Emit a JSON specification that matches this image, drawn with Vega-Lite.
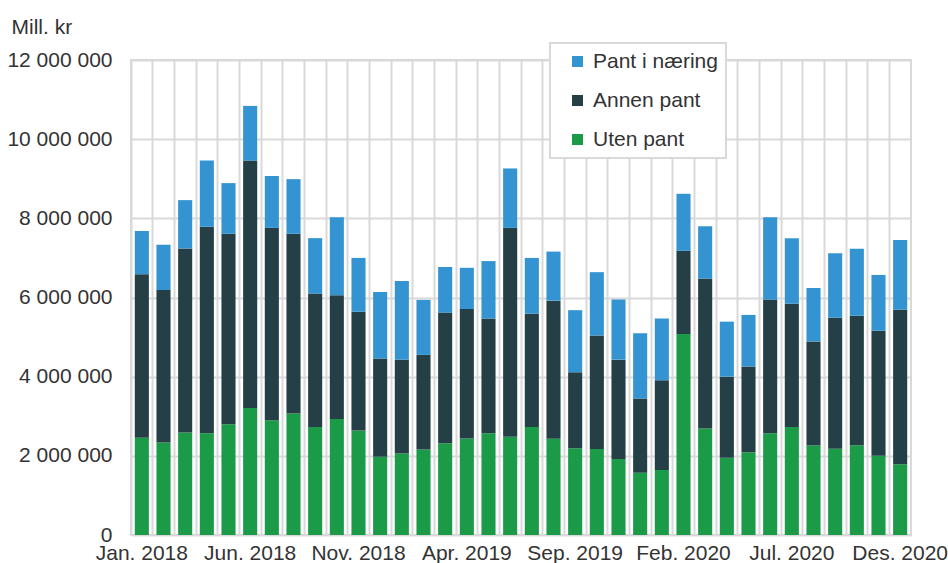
{
  "$schema": "https://vega.github.io/schema/vega-lite/v6.json",
  "width": 780,
  "height": 475,
  "autosize": {"type": "none"},
  "padding": {"left": 131, "top": 60, "right": 37, "bottom": 28},
  "background": "white",
  "config": {
    "locale": {"number": {"decimal": ",", "thousands": " ", "grouping": [3], "currency": ["", ""]}},
    "font": "Liberation Sans",
    "view": {"stroke": "#d9d9d9", "strokeWidth": 2},
    "axis": {"labelFont": "Liberation Sans", "labelFontSize": 21, "labelColor": "#333333", "gridColor": "#d9d9d9", "gridWidth": 2, "domain": false, "ticks": false, "tickSize": 0},
    "legend": {"strokeWidth": 2}
  },
  "datasets": {
    "types": [
      {"t": "Uten pant", "r": 1},
      {"t": "Annen pant", "r": 2},
      {"t": "Pant i næring", "r": 3}
    ],
    "bars": [
      {"m": "Jan. 2018", "t": "Uten pant", "v": 2460000}, {"m": "Jan. 2018", "t": "Annen pant", "v": 4130000}, {"m": "Jan. 2018", "t": "Pant i næring", "v": 1090000},
      {"m": "Feb. 2018", "t": "Uten pant", "v": 2340000}, {"m": "Feb. 2018", "t": "Annen pant", "v": 3850000}, {"m": "Feb. 2018", "t": "Pant i næring", "v": 1140000},
      {"m": "Mar. 2018", "t": "Uten pant", "v": 2590000}, {"m": "Mar. 2018", "t": "Annen pant", "v": 4650000}, {"m": "Mar. 2018", "t": "Pant i næring", "v": 1220000},
      {"m": "Apr. 2018", "t": "Uten pant", "v": 2570000}, {"m": "Apr. 2018", "t": "Annen pant", "v": 5220000}, {"m": "Apr. 2018", "t": "Pant i næring", "v": 1670000},
      {"m": "Mai 2018", "t": "Uten pant", "v": 2800000}, {"m": "Mai 2018", "t": "Annen pant", "v": 4810000}, {"m": "Mai 2018", "t": "Pant i næring", "v": 1280000},
      {"m": "Jun. 2018", "t": "Uten pant", "v": 3210000}, {"m": "Jun. 2018", "t": "Annen pant", "v": 6250000}, {"m": "Jun. 2018", "t": "Pant i næring", "v": 1380000},
      {"m": "Jul. 2018", "t": "Uten pant", "v": 2900000}, {"m": "Jul. 2018", "t": "Annen pant", "v": 4860000}, {"m": "Jul. 2018", "t": "Pant i næring", "v": 1310000},
      {"m": "Aug. 2018", "t": "Uten pant", "v": 3070000}, {"m": "Aug. 2018", "t": "Annen pant", "v": 4540000}, {"m": "Aug. 2018", "t": "Pant i næring", "v": 1380000},
      {"m": "Sep. 2018", "t": "Uten pant", "v": 2730000}, {"m": "Sep. 2018", "t": "Annen pant", "v": 3370000}, {"m": "Sep. 2018", "t": "Pant i næring", "v": 1400000},
      {"m": "Okt. 2018", "t": "Uten pant", "v": 2930000}, {"m": "Okt. 2018", "t": "Annen pant", "v": 3130000}, {"m": "Okt. 2018", "t": "Pant i næring", "v": 1970000},
      {"m": "Nov. 2018", "t": "Uten pant", "v": 2640000}, {"m": "Nov. 2018", "t": "Annen pant", "v": 3000000}, {"m": "Nov. 2018", "t": "Pant i næring", "v": 1360000},
      {"m": "Des. 2018", "t": "Uten pant", "v": 1980000}, {"m": "Des. 2018", "t": "Annen pant", "v": 2480000}, {"m": "Des. 2018", "t": "Pant i næring", "v": 1680000},
      {"m": "Jan. 2019", "t": "Uten pant", "v": 2060000}, {"m": "Jan. 2019", "t": "Annen pant", "v": 2370000}, {"m": "Jan. 2019", "t": "Pant i næring", "v": 1990000},
      {"m": "Feb. 2019", "t": "Uten pant", "v": 2160000}, {"m": "Feb. 2019", "t": "Annen pant", "v": 2390000}, {"m": "Feb. 2019", "t": "Pant i næring", "v": 1390000},
      {"m": "Mar. 2019", "t": "Uten pant", "v": 2320000}, {"m": "Mar. 2019", "t": "Annen pant", "v": 3300000}, {"m": "Mar. 2019", "t": "Pant i næring", "v": 1150000},
      {"m": "Apr. 2019", "t": "Uten pant", "v": 2440000}, {"m": "Apr. 2019", "t": "Annen pant", "v": 3270000}, {"m": "Apr. 2019", "t": "Pant i næring", "v": 1040000},
      {"m": "Mai 2019", "t": "Uten pant", "v": 2570000}, {"m": "Mai 2019", "t": "Annen pant", "v": 2900000}, {"m": "Mai 2019", "t": "Pant i næring", "v": 1450000},
      {"m": "Jun. 2019", "t": "Uten pant", "v": 2480000}, {"m": "Jun. 2019", "t": "Annen pant", "v": 5280000}, {"m": "Jun. 2019", "t": "Pant i næring", "v": 1500000},
      {"m": "Jul. 2019", "t": "Uten pant", "v": 2730000}, {"m": "Jul. 2019", "t": "Annen pant", "v": 2860000}, {"m": "Jul. 2019", "t": "Pant i næring", "v": 1410000},
      {"m": "Aug. 2019", "t": "Uten pant", "v": 2430000}, {"m": "Aug. 2019", "t": "Annen pant", "v": 3490000}, {"m": "Aug. 2019", "t": "Pant i næring", "v": 1240000},
      {"m": "Sep. 2019", "t": "Uten pant", "v": 2190000}, {"m": "Sep. 2019", "t": "Annen pant", "v": 1920000}, {"m": "Sep. 2019", "t": "Pant i næring", "v": 1570000},
      {"m": "Okt. 2019", "t": "Uten pant", "v": 2170000}, {"m": "Okt. 2019", "t": "Annen pant", "v": 2870000}, {"m": "Okt. 2019", "t": "Pant i næring", "v": 1600000},
      {"m": "Nov. 2019", "t": "Uten pant", "v": 1920000}, {"m": "Nov. 2019", "t": "Annen pant", "v": 2510000}, {"m": "Nov. 2019", "t": "Pant i næring", "v": 1520000},
      {"m": "Des. 2019", "t": "Uten pant", "v": 1570000}, {"m": "Des. 2019", "t": "Annen pant", "v": 1880000}, {"m": "Des. 2019", "t": "Pant i næring", "v": 1650000},
      {"m": "Jan. 2020", "t": "Uten pant", "v": 1640000}, {"m": "Jan. 2020", "t": "Annen pant", "v": 2270000}, {"m": "Jan. 2020", "t": "Pant i næring", "v": 1560000},
      {"m": "Feb. 2020", "t": "Uten pant", "v": 5080000}, {"m": "Feb. 2020", "t": "Annen pant", "v": 2100000}, {"m": "Feb. 2020", "t": "Pant i næring", "v": 1440000},
      {"m": "Mar. 2020", "t": "Uten pant", "v": 2690000}, {"m": "Mar. 2020", "t": "Annen pant", "v": 3790000}, {"m": "Mar. 2020", "t": "Pant i næring", "v": 1320000},
      {"m": "Apr. 2020", "t": "Uten pant", "v": 1950000}, {"m": "Apr. 2020", "t": "Annen pant", "v": 2050000}, {"m": "Apr. 2020", "t": "Pant i næring", "v": 1390000},
      {"m": "Mai 2020", "t": "Uten pant", "v": 2090000}, {"m": "Mai 2020", "t": "Annen pant", "v": 2170000}, {"m": "Mai 2020", "t": "Pant i næring", "v": 1300000},
      {"m": "Jun. 2020", "t": "Uten pant", "v": 2570000}, {"m": "Jun. 2020", "t": "Annen pant", "v": 3380000}, {"m": "Jun. 2020", "t": "Pant i næring", "v": 2080000},
      {"m": "Jul. 2020", "t": "Uten pant", "v": 2730000}, {"m": "Jul. 2020", "t": "Annen pant", "v": 3110000}, {"m": "Jul. 2020", "t": "Pant i næring", "v": 1660000},
      {"m": "Aug. 2020", "t": "Uten pant", "v": 2260000}, {"m": "Aug. 2020", "t": "Annen pant", "v": 2630000}, {"m": "Aug. 2020", "t": "Pant i næring", "v": 1350000},
      {"m": "Sep. 2020", "t": "Uten pant", "v": 2180000}, {"m": "Sep. 2020", "t": "Annen pant", "v": 3310000}, {"m": "Sep. 2020", "t": "Pant i næring", "v": 1630000},
      {"m": "Okt. 2020", "t": "Uten pant", "v": 2270000}, {"m": "Okt. 2020", "t": "Annen pant", "v": 3270000}, {"m": "Okt. 2020", "t": "Pant i næring", "v": 1690000},
      {"m": "Nov. 2020", "t": "Uten pant", "v": 2000000}, {"m": "Nov. 2020", "t": "Annen pant", "v": 3160000}, {"m": "Nov. 2020", "t": "Pant i næring", "v": 1410000},
      {"m": "Des. 2020", "t": "Uten pant", "v": 1790000}, {"m": "Des. 2020", "t": "Annen pant", "v": 3900000}, {"m": "Des. 2020", "t": "Pant i næring", "v": 1760000}
    ]
  },
  "data": {"name": "bars"},
  "transform": [
    {"lookup": "t", "from": {"data": {"name": "types"}, "key": "t", "fields": ["r"]}}
  ],
  "mark": {"type": "bar", "width": {"band": 0.65}},
  "encoding": {
    "x": {
      "field": "m",
      "type": "nominal",
      "sort": null,
      "scale": {"paddingInner": 0, "paddingOuter": 0},
      "axis": {
        "title": null,
        "bandPosition": 0,
        "grid": true,
        "labelAngle": 0,
        "labelPadding": 24,
        "labelBaseline": "alphabetic",
        "labelOverlap": false,
        "labelBound": false,
        "labelFlush": false,
        "labelExpr": "indexof(['Jan. 2018','Jun. 2018','Nov. 2018','Apr. 2019','Sep. 2019','Feb. 2020','Jul. 2020','Des. 2020'], datum.value) >= 0 ? datum.value : ''"
      }
    },
    "y": {
      "field": "v",
      "type": "quantitative",
      "stack": "zero",
      "scale": {"domain": [0, 12000000], "nice": false},
      "axis": {
        "title": "Mill. kr",
        "titleAngle": 0,
        "titleAlign": "left",
        "titleBaseline": "alphabetic",
        "titleX": -120,
        "titleY": -27,
        "titleFont": "Liberation Sans",
        "titleFontSize": 21,
        "titleFontWeight": "normal",
        "titleColor": "#333333",
        "values": [0, 2000000, 4000000, 6000000, 8000000, 10000000, 12000000],
        "format": ",.0f",
        "labelPadding": 19,
        "grid": true
      }
    },
    "color": {
      "field": "t",
      "type": "nominal",
      "scale": {"domain": ["Pant i næring", "Annen pant", "Uten pant"], "range": ["#3494d2", "#253f46", "#1b9b48"]},
      "legend": {
        "title": null,
        "orient": "none",
        "legendX": 419,
        "legendY": -17,
        "symbolType": "square",
        "symbolSize": 121,
        "symbolStrokeWidth": 0,
        "labelFont": "Liberation Sans",
        "labelFontSize": 21,
        "labelColor": "#333333",
        "padding": 8,
        "symbolOffset": 9,
        "labelOffset": 5,
        "rowPadding": 17,
        "fillColor": "white",
        "strokeColor": "#d9d9d9"
      }
    },
    "order": {"field": "r", "type": "quantitative", "sort": "ascending"}
  }
}
